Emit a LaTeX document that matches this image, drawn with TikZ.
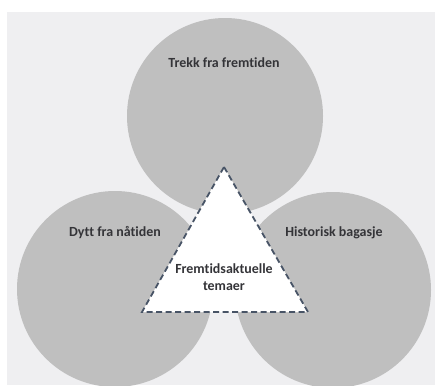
\documentclass[tikz,border=0pt]{standalone}
\usepackage{fontspec}
\setmainfont{Carlito}[Ligatures=NoCommon]
\begin{document}
\begin{tikzpicture}[x=1bp,y=-1bp,
  circ/.style={fill=circgray,draw=none},
  lbl/.style={font=\bfseries\fontsize{14}{17}\selectfont,text=txtgray,align=center},
  tri/.style={fill=white,draw=edgeblue,line width=1.8bp,dash pattern=on 6bp off 3.5bp}]
\definecolor{circgray}{RGB}{191,191,191}
\definecolor{bggray}{RGB}{239,239,241}
\definecolor{txtgray}{RGB}{52,52,56}
\definecolor{edgeblue}{RGB}{72,84,102}
\useasboundingbox (0,0) rectangle (435,385);
\fill[white] (0,0) rectangle (435,385);
\begin{scope}
\clip (7,12) rectangle (435,385);
\fill[bggray] (7,12) rectangle (435,385);
\fill[circ] (225,116) circle (98);
\fill[circ] (115,289) circle (98);
\fill[circ] (333,290) circle (98);
\end{scope}
\draw[tri] (224,167) coordinate (apex) -- (308,312) coordinate (br) -- (142,312) coordinate (bl) -- cycle;
\node[lbl] (top) at (224,63) {Trekk fra fremtiden};
\node[lbl] (left) at (115,233) {Dytt fra nåtiden};
\node[lbl] (right) at (334,233) {Historisk bagasje};
\node[lbl] (mid) at (224,277) {Fremtidsaktuelle\\temaer};
\end{tikzpicture}
\end{document}
